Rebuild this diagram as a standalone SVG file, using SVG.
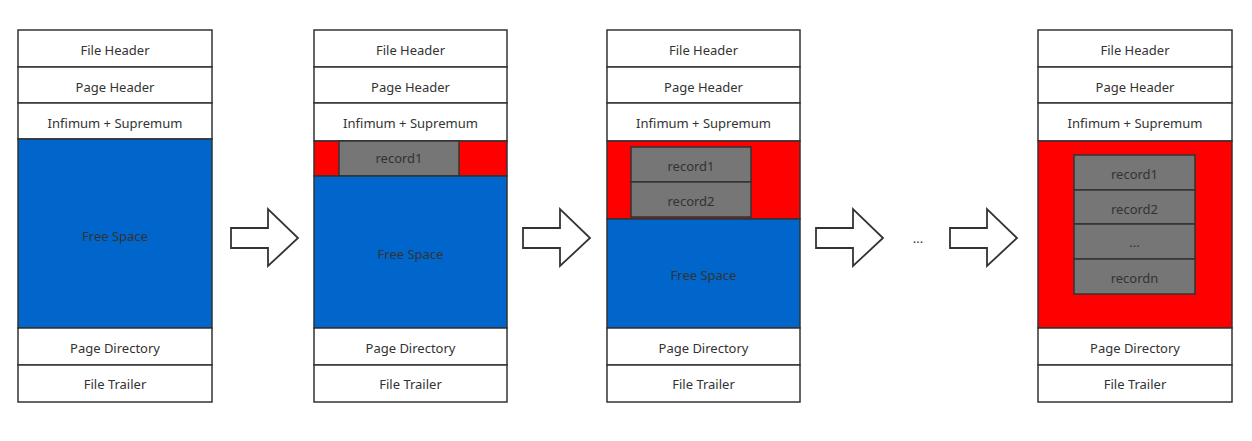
<svg xmlns="http://www.w3.org/2000/svg" width="1252" height="441" viewBox="0 0 1252 441">
<style>
.c{fill:#fff;stroke:#333;stroke-width:1.5}
.b{fill:#0066CC;stroke:#333;stroke-width:1.5}
.r{fill:#FF0000;stroke:#333;stroke-width:1.5}
.g{fill:#767676;stroke:#333;stroke-width:1.5}
text{font-family:"Noto Sans","DejaVu Sans",sans-serif;font-size:13px;fill:#333;text-anchor:middle;dominant-baseline:central}
.ar{fill:#fff;stroke:#333;stroke-width:1.8;stroke-linejoin:miter}
</style>
<g id="page1">
<rect class="c" x="18" y="30" width="194" height="37"/><text x="115" y="50">File Header</text>
<rect class="c" x="18" y="67" width="194" height="36"/><text x="115" y="87">Page Header</text>
<rect class="c" x="18" y="103" width="194" height="36"/><text x="115" y="123">Infimum + Supremum</text>
<rect class="b" x="18" y="139" width="194" height="189"/><text x="115" y="236">Free Space</text>
<rect class="c" x="18" y="328" width="194" height="37"/><text x="115" y="348">Page Directory</text>
<rect class="c" x="18" y="365" width="194" height="37"/><text x="115" y="384">File Trailer</text>
</g>
<g id="page2">
<rect class="c" x="314" y="30" width="193" height="37"/><text x="410.5" y="50">File Header</text>
<rect class="c" x="314" y="67" width="193" height="36"/><text x="410.5" y="87">Page Header</text>
<rect class="c" x="314" y="103" width="193" height="38"/><text x="410.5" y="123">Infimum + Supremum</text>
<rect class="r" x="314" y="141" width="193" height="35"/>
<rect class="g" x="339" y="141" width="120" height="35"/><text x="399" y="158">record1</text>
<rect class="b" x="314" y="176" width="193" height="152"/><text x="410.5" y="254">Free Space</text>
<rect class="c" x="314" y="328" width="193" height="37"/><text x="410.5" y="348">Page Directory</text>
<rect class="c" x="314" y="365" width="193" height="37"/><text x="410.5" y="384">File Trailer</text>
</g>
<g id="page3">
<rect class="c" x="607" y="30" width="193" height="37"/><text x="703.5" y="50">File Header</text>
<rect class="c" x="607" y="67" width="193" height="36"/><text x="703.5" y="87">Page Header</text>
<rect class="c" x="607" y="103" width="193" height="38"/><text x="703.5" y="123">Infimum + Supremum</text>
<rect class="r" x="607" y="141" width="193" height="78"/>
<rect class="g" x="631" y="147" width="120" height="35"/><text x="691" y="166">record1</text>
<rect class="g" x="631" y="182" width="120" height="35"/><text x="691" y="201">record2</text>
<rect class="b" x="607" y="219" width="193" height="109"/><text x="703.5" y="275">Free Space</text>
<rect class="c" x="607" y="328" width="193" height="37"/><text x="703.5" y="348">Page Directory</text>
<rect class="c" x="607" y="365" width="193" height="37"/><text x="703.5" y="384">File Trailer</text>
</g>
<g id="page4">
<rect class="c" x="1038" y="30" width="194" height="37"/><text x="1135" y="50">File Header</text>
<rect class="c" x="1038" y="67" width="194" height="36"/><text x="1135" y="87">Page Header</text>
<rect class="c" x="1038" y="103" width="194" height="38"/><text x="1135" y="123">Infimum + Supremum</text>
<rect class="r" x="1038" y="141" width="194" height="187"/>
<rect class="g" x="1074" y="155" width="121" height="35"/><text x="1134.5" y="174">record1</text>
<rect class="g" x="1074" y="190" width="121" height="34"/><text x="1134.5" y="209">record2</text>
<rect class="g" x="1074" y="224" width="121" height="35"/><text x="1134.5" y="242">...</text>
<rect class="g" x="1074" y="259" width="121" height="35"/><text x="1134.5" y="278">recordn</text>
<rect class="c" x="1038" y="328" width="194" height="37"/><text x="1135" y="348">Page Directory</text>
<rect class="c" x="1038" y="365" width="194" height="37"/><text x="1135" y="384">File Trailer</text>
</g>
<g id="connectors">
<path class="ar" d="M231,228 H268 V209 L298,238 L268,266 V248 H231 Z"/>
<path class="ar" d="M523,228 H560 V209 L590,238 L560,266 V248 H523 Z"/>
<path class="ar" d="M816,228 H853 V209 L883,238 L853,266 V248 H816 Z"/>
<path class="ar" d="M950,228 H987 V209 L1017,238 L987,266 V248 H950 Z"/>
<text x="918" y="238">...</text>
</g>
</svg>
